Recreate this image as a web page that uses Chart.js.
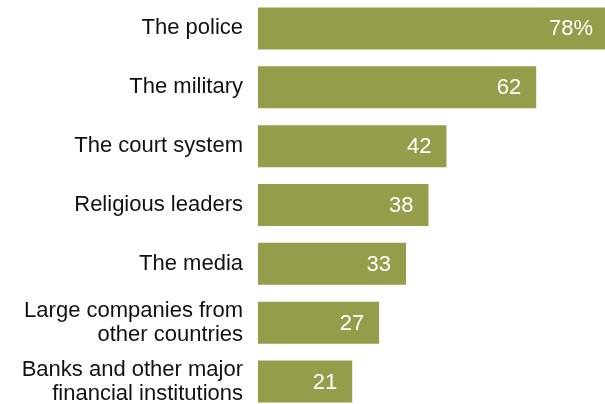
<!DOCTYPE html>
<html>
<head>
<meta charset="utf-8">
<script src="https://cdn.jsdelivr.net/npm/chart.js@4/dist/chart.umd.min.js"></script>
<style>
  html, body { margin: 0; padding: 0; background: #fff; overflow: hidden; }
  #wrap { position: absolute; left: 0; top: -1px; width: 610px; height: 412px; }
</style>
</head>
<body>
<div id="wrap"><canvas id="barChart" width="610" height="412"></canvas></div>
<script>
const institutions = [
  'The police',
  'The military',
  'The court system',
  'Religious leaders',
  'The media',
  ['Large companies from', 'other countries'],
  ['Banks and other major', 'financial institutions']
];
const shares = [78, 62, 42, 38, 33, 27, 21];
const barColor = '#959d4b';

// white value labels just inside the end of each bar
const valueLabels = {
  id: 'valueLabels',
  afterDatasetsDraw(chart) {
    const ctx = chart.ctx;
    const meta = chart.getDatasetMeta(0);
    ctx.save();
    ctx.font = '22px "Liberation Sans", Arial, sans-serif';
    ctx.fillStyle = '#ffffff';
    ctx.textAlign = 'right';
    ctx.textBaseline = 'middle';
    meta.data.forEach((bar, i) => {
      const text = i === 0 ? shares[i] + '%' : String(shares[i]);
      ctx.fillText(text, bar.x - 15, bar.y + 1);
    });
    ctx.restore();
  }
};

new Chart(document.getElementById('barChart').getContext('2d'), {
  type: 'bar',
  data: {
    labels: institutions,
    datasets: [{
      data: shares,
      backgroundColor: barColor,
      borderWidth: 0,
      barPercentage: 1,
      categoryPercentage: 0.714
    }]
  },
  options: {
    indexAxis: 'y',
    responsive: false,
    animation: false,
    layout: { padding: { left: 0, right: 2, top: 0, bottom: 0 } },
    plugins: {
      legend: { display: false },
      tooltip: { enabled: false }
    },
    scales: {
      x: {
        display: false,
        min: 0,
        max: 78
      },
      y: {
        grid: { display: false, drawTicks: false },
        border: { display: false },
        ticks: {
          color: '#111',
          padding: 15,
          font: { family: '"Liberation Sans", Arial, sans-serif', size: 22, lineHeight: 1.1 }
        },
        afterFit(scale) {
          // fixed label column, no extra room above/below the bars
          scale.width = 258;
          scale.paddingTop = 0;
          scale.paddingBottom = 0;
        }
      }
    }
  },
  plugins: [valueLabels]
});
</script>
</body>
</html>
